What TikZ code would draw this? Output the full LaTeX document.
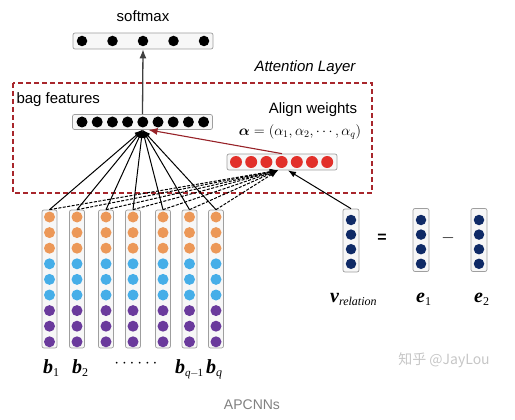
\documentclass[tikz,border=0pt]{standalone}
\usepackage{fontspec}
\setmainfont{Liberation Serif}
\setsansfont{Liberation Sans}
\newfontfamily\cjkfont{Noto Sans CJK SC}
\usepackage{bm}
\usetikzlibrary{arrows.meta, positioning}
\definecolor{dotorange}{HTML}{EC9858}
\definecolor{dotblue}{HTML}{46AEE8}
\definecolor{dotpurple}{HTML}{6A3A9C}
\definecolor{dotnavy}{HTML}{0F2A66}
\definecolor{dotred}{HTML}{E2302A}
\definecolor{framered}{HTML}{A8262C}
\tikzset{
	vecbox/.style={draw=gray!75, line width=0.7pt, rounded corners=2pt, fill=gray!6, inner sep=0pt}
}
\tikzset{
	neuron/.style={circle, inner sep=0pt, minimum size=#1}
}
\tikzset{
	sanstext/.style={font=\sffamily\fontsize{15}{18}\selectfont}
}
\tikzset{
	solidlink/.style={-{Latex[length=8pt,width=6pt]}, line width=1pt},
	dashlink/.style={-{Latex[length=8pt,width=6pt]}, line width=1pt, dash pattern=on 3pt off 1.5pt}
}
\newcommand{\vlab}[2]{{\fontsize{20}{20}\selectfont\bfseries\itshape #1}\raisebox{-0.7ex}{\fontsize{12}{12}\selectfont #2}}

\begin{document}
\begin{tikzpicture}[x=1pt,y=1pt]
  \useasboundingbox (0,0) rectangle (515,-420);
  % attention layer frame
  \draw[framered, line width=1.2pt, dash pattern=on 5pt off 3pt] (13,-83) rectangle (372,-193);
  \node[sanstext] (atttitle) at (305,-68) {\itshape Attention Layer};
  % softmax and bag features
  \node[sanstext] (softtitle) at (143,-16) {softmax};
  \node[vecbox, minimum width=140, minimum height=16] (soft) at (143,-41) {};
  \foreach \i in {0,...,4}
    \node[neuron=10.5, fill=black] at (82+30.5*\i,-41) {};
  \node[sanstext, anchor=west] (bagtitle) at (13,-100) {bag features};
  \node[vecbox, minimum width=140, minimum height=15] (bag) at (142.5,-122) {};
  \foreach \i in {0,...,8}
    \node[neuron=11, fill=black] at (82+15.2*\i,-122) {};
  \draw[-{Latex[length=9pt,width=7pt]}, line width=1.3pt, black!75] (bag.north) -- (soft.south);
  % align weights
  \node[sanstext, inner sep=1pt] (aligntitle) at (313,-110) {Align weights};
  \node[font=\fontsize{14}{16}\selectfont, inner sep=0pt] (alpha) at (300,-132)
    {$\bm{\alpha}=\Bigl(\alpha_1,\alpha_2,\cdots,\alpha_q\Bigr)$};
  \node[vecbox, minimum width=110, minimum height=16] (red) at (282,-162) {};
  \foreach \i in {0,...,6}
    \node[neuron=12, fill=dotred] at (236+15.2*\i,-162) {};
  % sentence vectors b_1 ... b_q
  \foreach \x [count=\k] in {49.5,77,106,133,163,189.5,216} {
    \node[vecbox, minimum width=15, minimum height=138] (b\k) at (\x,-279) {};
    \foreach \c [count=\j from 0] in {dotorange,dotorange,dotorange,dotblue,dotblue,dotblue,dotpurple,dotpurple,dotpurple}
      \node[neuron=11, fill=\c] at (\x,-217-15.6*\j) {};
  }
  \foreach \k in {1,...,7} {
    \draw[solidlink] (b\k.north) -- (bag.south);
    \draw[dashlink] (b\k.north) -- ([xshift=-4]red.south);
  }
  \node[anchor=base west, inner sep=0pt] (lb1) at (43,-373) {\vlab{b}{1}};
  \node[anchor=base west, inner sep=0pt] (lb2) at (72,-373) {\vlab{b}{2}};
  \node[font=\bfseries\fontsize{16}{16}\selectfont] (ldots) at (136,-364) {$\cdots\cdots$};
  \node[anchor=base west, inner sep=0pt] (lbq1) at (175,-373)
    {\vlab{b}{\fontsize{11}{11}\selectfont\textit{q}\kern-0.5pt$-$\kern-1pt1}};
  \node[anchor=base west, inner sep=0pt] (lbq) at (206,-373) {\vlab{b}{\textit{q}}};
  % relation vector
  \node[vecbox, minimum width=16, minimum height=63] (vrel) at (351,-240.5) {};
  \node[vecbox, minimum width=16, minimum height=63] (e1) at (421,-240) {};
  \node[vecbox, minimum width=16, minimum height=63] (e2) at (479,-240) {};
  \foreach \x in {351,421,479}
    \foreach \j in {0,...,3}
      \node[neuron=10.5, fill=dotnavy] at (\x,-220-14.6*\j) {};
  \node[font=\sffamily\bfseries\fontsize{16}{16}\selectfont] (eq) at (382,-238) {=};
  \node[font=\fontsize{18}{18}\selectfont] (minus) at (448,-238) {$-$};
  \draw[solidlink] (vrel.north) -- ([xshift=6]red.south);
  \draw[-{Latex[length=9pt,width=7pt]}, line width=1.1pt, color=framered!90!black]
    (red.north) -- ([xshift=6]bag.south);
  \node[anchor=base west, inner sep=0pt] (lv) at (330,-302) {\vlab{v}{\textit{relation}}};
  \node[anchor=base west, inner sep=0pt] (le1) at (416,-302) {\vlab{e}{1}};
  \node[anchor=base west, inner sep=0pt] (le2) at (474,-302) {\vlab{e}{2}};
  % captions
  \node[font=\cjkfont\fontsize{14}{16}\selectfont, text=gray!45] (mark) at (444,-360) {知乎 @JayLou};
  \node[font=\sffamily\fontsize{14}{16}\selectfont, text=gray] (caption) at (252,-405) {APCNNs};
\end{tikzpicture}
\end{document}
